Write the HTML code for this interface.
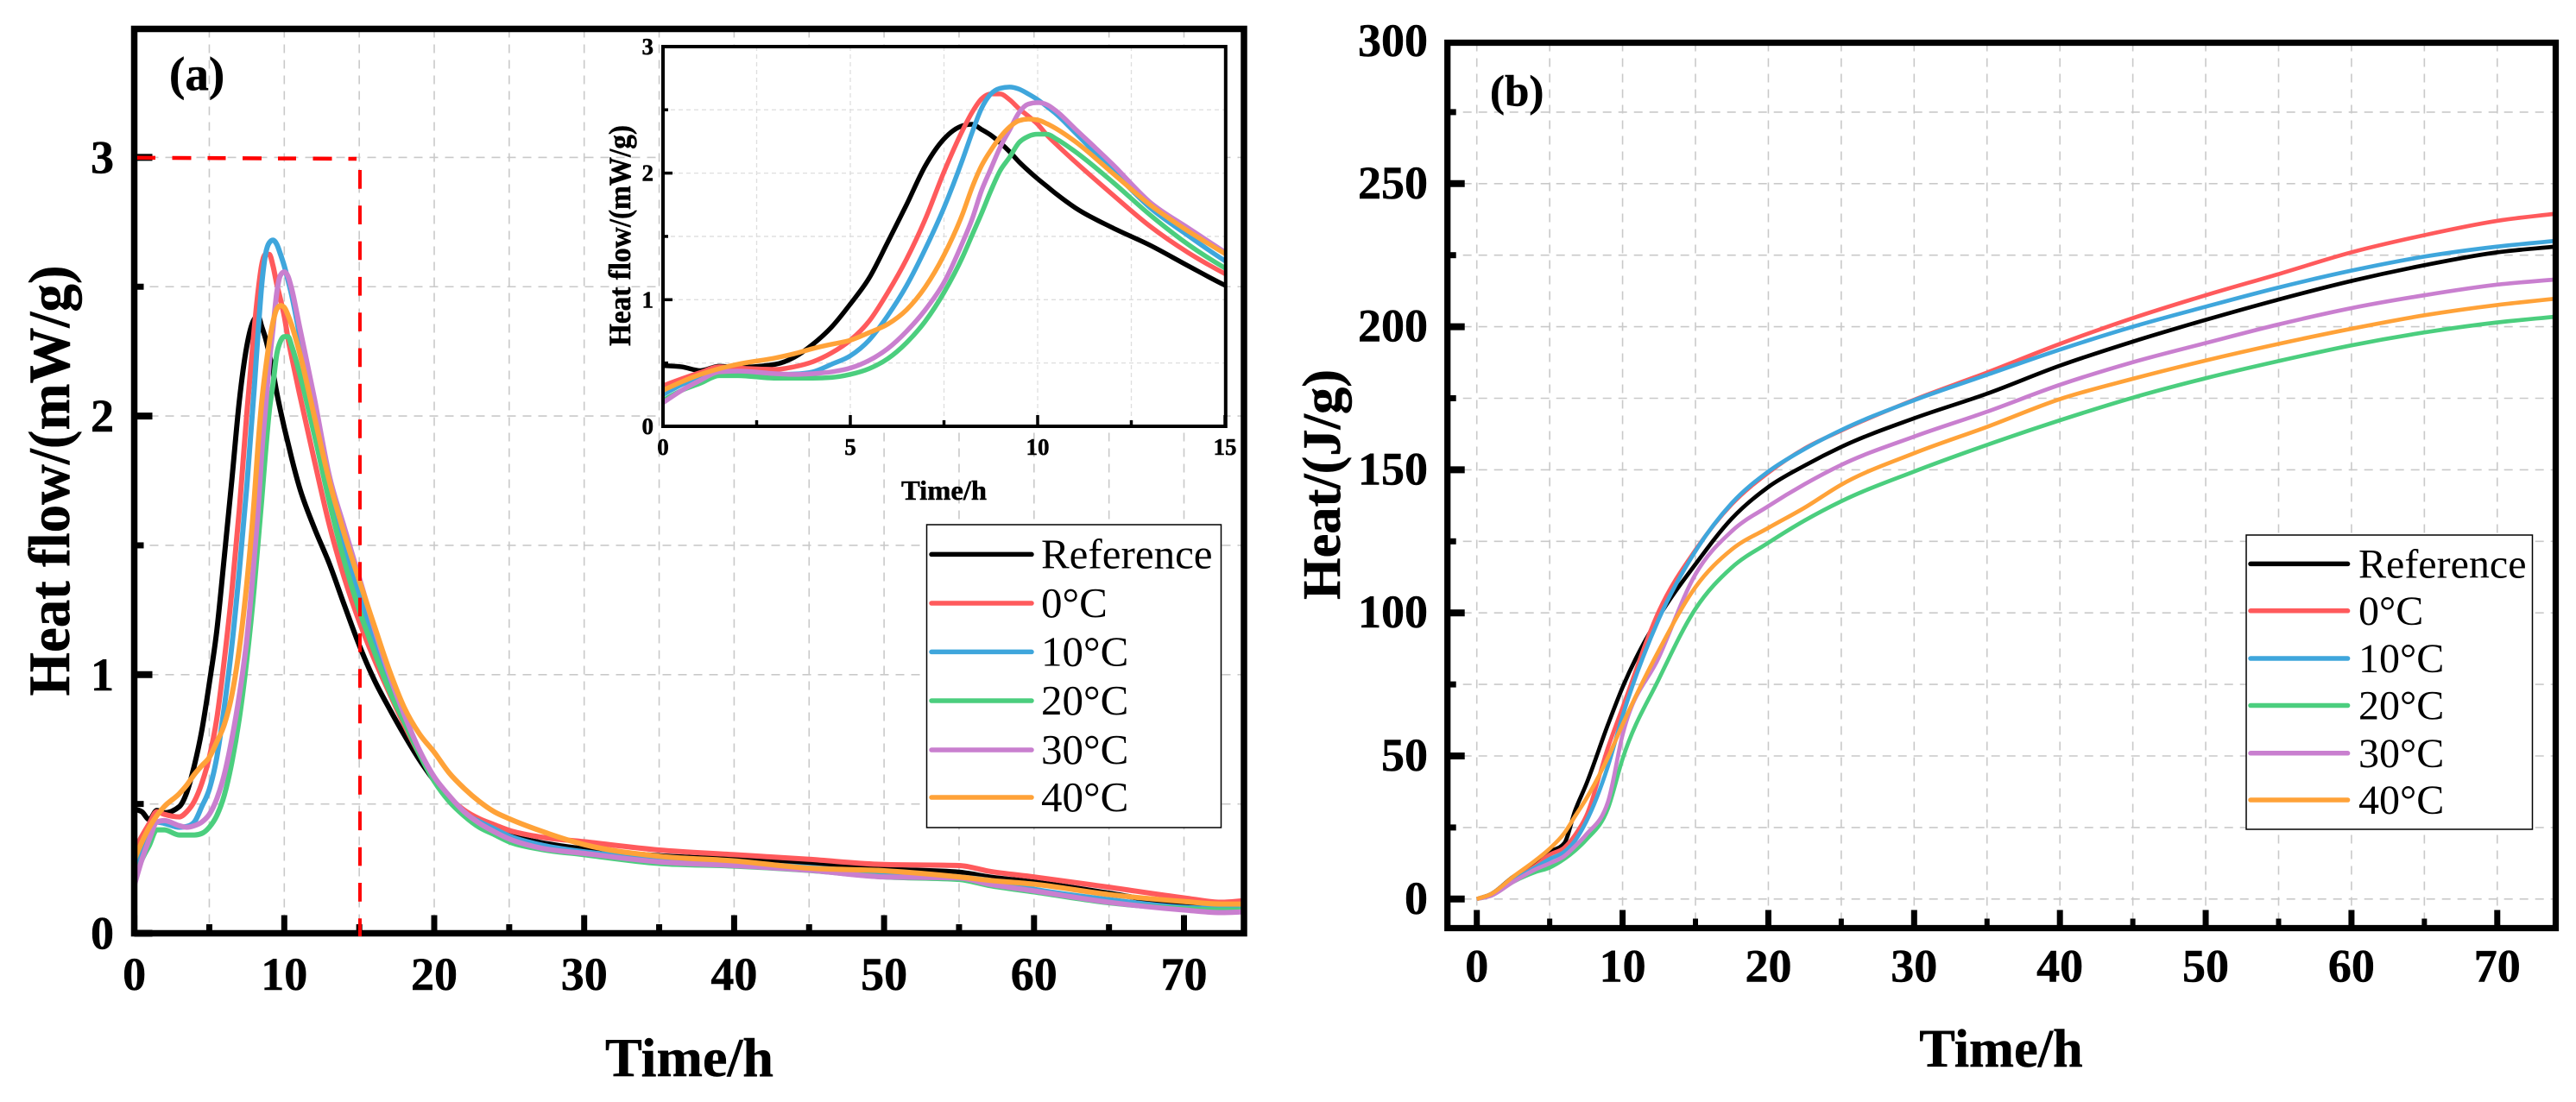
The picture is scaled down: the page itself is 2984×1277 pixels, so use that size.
<!DOCTYPE html>
<html lang="en">
<head>
<meta charset="utf-8">
<title>Heat flow and cumulative heat curves</title>
<style>
html,body{margin:0;padding:0;background:#fff;}
svg{display:block;font-family:"Liberation Serif",serif;}
.b{font-weight:bold;fill:#000;stroke:#000;stroke-width:0.5px;}
.r{fill:#000;}
</style>
</head>
<body>
<svg id="chart" xmlns="http://www.w3.org/2000/svg" width="2984" height="1277" viewBox="0 0 2984 1277">
  <rect x="0" y="0" width="2984" height="1277" fill="#fff"/>
  <g id="panelA"></g>
  <g id="panelB"></g>
</svg>
<script>
// ---------- Panel (a): heat flow, mW/g ----------
const timeA = [0,0.5,1,1.5,2,3,3.5,4,4.5,5,5.5,6,6.5,7,7.5,8,8.25,8.5,8.75,9,9.25,9.5,9.75,10,10.25,10.5,11,12,13,14,15,16,17,18,19,20,21,22,23,24,25,27,30,35,40,45,50,55,57,60,65,70,72.5,74];
const flowReference = [0.48,0.47,0.44,0.475,0.466,0.49,0.545,0.648,0.784,0.966,1.17,1.455,1.75,2.057,2.27,2.375,2.386,2.345,2.30,2.24,2.17,2.09,2.02,1.955,1.895,1.835,1.727,1.568,1.43,1.27,1.114,0.98,0.87,0.767,0.672,0.59,0.52,0.465,0.425,0.398,0.378,0.352,0.326,0.30,0.286,0.27,0.248,0.236,0.218,0.198,0.155,0.11,0.103,0.105];
const flow0C = [0.32,0.375,0.425,0.47,0.46,0.45,0.47,0.51,0.58,0.68,0.83,1.057,1.32,1.636,2.01,2.34,2.48,2.586,2.625,2.625,2.58,2.51,2.45,2.386,2.30,2.227,2.09,1.83,1.58,1.375,1.205,1.06,0.93,0.806,0.694,0.60,0.527,0.476,0.443,0.42,0.398,0.373,0.354,0.322,0.304,0.286,0.266,0.262,0.24,0.218,0.178,0.137,0.12,0.126];
const flow10C = [0.25,0.33,0.386,0.43,0.425,0.41,0.413,0.43,0.49,0.557,0.68,0.875,1.11,1.40,1.727,2.11,2.32,2.51,2.625,2.67,2.68,2.664,2.625,2.58,2.525,2.466,2.32,2.02,1.727,1.51,1.307,1.14,0.985,0.84,0.705,0.60,0.527,0.465,0.432,0.404,0.376,0.343,0.315,0.29,0.273,0.255,0.233,0.218,0.205,0.17,0.13,0.10,0.096,0.096];
const flow20C = [0.205,0.284,0.34,0.40,0.40,0.38,0.38,0.38,0.386,0.41,0.455,0.534,0.66,0.83,1.057,1.34,1.51,1.68,1.86,2.02,2.125,2.24,2.29,2.307,2.307,2.27,2.17,1.93,1.67,1.44,1.25,1.09,0.94,0.817,0.694,0.588,0.51,0.454,0.41,0.382,0.354,0.326,0.304,0.27,0.26,0.243,0.218,0.208,0.185,0.16,0.118,0.095,0.09,0.09];
const flow30C = [0.186,0.284,0.364,0.43,0.436,0.416,0.41,0.416,0.43,0.46,0.52,0.614,0.75,0.92,1.136,1.455,1.636,1.86,2.034,2.205,2.34,2.477,2.545,2.557,2.54,2.49,2.35,2.07,1.77,1.57,1.375,1.18,1.0,0.846,0.71,0.605,0.532,0.47,0.426,0.393,0.365,0.331,0.309,0.276,0.262,0.244,0.218,0.214,0.19,0.164,0.12,0.09,0.08,0.083];
const flow40C = [0.284,0.352,0.41,0.455,0.49,0.54,0.573,0.614,0.648,0.68,0.74,0.807,0.92,1.10,1.352,1.68,1.886,2.057,2.18,2.284,2.364,2.414,2.427,2.42,2.39,2.35,2.25,2.0,1.75,1.545,1.364,1.19,1.018,0.873,0.772,0.70,0.62,0.56,0.51,0.47,0.443,0.398,0.343,0.298,0.28,0.252,0.242,0.218,0.205,0.19,0.15,0.123,0.113,0.113];

// ---------- Panel (b): cumulative heat, J/g ----------
const timeB = [0,1,2.5,4,5,6,6.75,7.5,9,10,12.5,15,17.5,20,22.5,25,30,35,40,45,50,55,60,65,70,74];
const heatReference = [0,1.8,7.8,12.4,16.4,19.5,31,40,61,74,98.7,117,133,144,151.5,158,168,176.6,186.4,194.8,202.4,209.5,216,221.5,226,228];
const heat0C = [0,1.6,6.6,11.5,15.5,18,22.5,29,53,67,100.8,122,138,149,157.5,163.7,174.5,184,194,203,211,218.4,226,232,237,239.5];
const heat10C = [0,1.5,6.5,11,14,16.5,20.5,27,46.5,64,98,121.6,138.4,149.4,157.3,163.9,174.3,183.2,192,200,207,213.7,219.6,224.5,228,230];
const heat20C = [0,1.2,6,9.4,11,14,17,20.7,31.7,49,77,101.4,115.9,124.5,132.3,139,149.4,158.7,167.3,175.2,182,188,193.5,198,201.5,203.5];
const heat30C = [0,1.2,6,10.3,12.5,15,18.5,22.5,34,57.4,84.6,113.5,128.6,137.3,145,151.7,161.6,170.3,179.7,187.6,194.3,200.8,206.5,211,214.7,216.5];
const heat40C = [0,1.8,7.8,13.4,17.6,23,29,35,49.5,61,87,109,122.2,129.7,136.8,144.8,155.8,165,174.7,181.8,188.2,194,199.3,204,207.6,209.8];

// ---------- Ticks and legend ----------
const seriesLabels = ["Reference","0°C","10°C","20°C","30°C","40°C"];
const seriesSlugs = ["reference","0c","10c","20c","30c","40c"];
const seriesColors = ["#000000","#ff5a5c","#3fa6dc","#4bce7e","#c97fcf","#ffa238"];
const xMajor = [0,10,20,30,40,50,60,70];
const xMinor = [5,15,25,35,45,55,65];
const yMajorA = [0,1,2,3];
const yMinorA = [0.5,1.5,2.5];
const yMajorB = [0,50,100,150,200,250,300];
const yMinorB = [25,75,125,175,225,275];
const insetXMajor = [0,5,10,15];
const insetXMinor = [2.5,7.5,12.5];
const insetYMajor = [0,1,2,3];
const insetYMinor = [0.5,1.5,2.5];
const guideTime = [15];
const guideFlow = [3];

const NS = "http://www.w3.org/2000/svg";
const panelA = document.getElementById("panelA");
const panelB = document.getElementById("panelB");

// axis functions
const xA = t => 155.6 + 17.37 * t;
const yA = v => 1081.5 - 299.7 * v;
const xI = t => 768 + 43.4 * t;
const yI = v => 494 - 146.7 * v;
const xB = t => 1710.7 + 16.887 * t;
const yB = v => 1041.8 - 3.316 * v;

function make(parent, tag, attrs, text) {
  const node = document.createElementNS(NS, tag);
  for (const key in attrs) node.setAttribute(key, attrs[key]);
  if (text !== undefined) node.textContent = text;
  parent.appendChild(node);
  return node;
}

// monotone cubic path through the data points
function curvePath(xs, ys, fx, fy) {
  const n = xs.length, px = xs.map(fx), py = ys.map(fy);
  const d = [], m = [];
  for (let i = 0; i < n - 1; i++) d.push((py[i + 1] - py[i]) / (px[i + 1] - px[i]));
  m.push(d[0]);
  for (let i = 1; i < n - 1; i++) {
    if (d[i - 1] * d[i] <= 0) { m.push(0); continue; }
    const h0 = px[i] - px[i - 1], h1 = px[i + 1] - px[i];
    const p = (d[i - 1] * h1 + d[i] * h0) / (h0 + h1);
    const mag = Math.min(2 * Math.abs(d[i - 1]), 2 * Math.abs(d[i]), Math.abs(p));
    m.push(Math.sign(d[i]) * mag);
  }
  m.push(d[n - 2]);
  let s = "M" + px[0].toFixed(2) + " " + py[0].toFixed(2);
  for (let i = 0; i < n - 1; i++) {
    const h = (px[i + 1] - px[i]) / 3;
    s += "C" + (px[i] + h).toFixed(2) + " " + (py[i] + m[i] * h).toFixed(2) + " " +
         (px[i + 1] - h).toFixed(2) + " " + (py[i + 1] - m[i + 1] * h).toFixed(2) + " " +
         px[i + 1].toFixed(2) + " " + py[i + 1].toFixed(2);
  }
  return s;
}

function drawGrid(parent, xVals, yVals, fx, fy, box, color, width, dash, label) {
  const g = make(parent, "g", {fill: "none", stroke: color, "stroke-width": width, "stroke-dasharray": dash});
  
  
  xVals.forEach(v => {
    const ln = make(g, "line", {x1: fx(v), x2: fx(v), y1: box.top, y2: box.bottom});
    
    
  });
  yVals.forEach(v => {
    const ln = make(g, "line", {x1: box.left, x2: box.right, y1: fy(v), y2: fy(v)});
    
    
  });
}

function drawSeries(parent, xs, seriesList, fx, fy, width, prefix) {
  seriesList.forEach((vals, i) => {
    const p = make(parent, "path", {
      d: curvePath(xs, vals, fx, fy), fill: "none", stroke: seriesColors[i],
      "stroke-width": width, "stroke-linejoin": "round", "stroke-linecap": "butt"
    });
    
    
  });
}

function drawFrame(parent, box, w, h, label) {
  const r = make(parent, "rect", {
    x: box.left, y: box.top, width: box.right - box.left, height: box.bottom - box.top,
    fill: "none", stroke: "#000"
  });
  r.setAttribute("stroke-width", (w + h) / 2);
  
  
}

function drawXTicks(parent, vals, fx, baseY, len, w, label) {
  vals.forEach(v => {
    const ln = make(parent, "line", {x1: fx(v), x2: fx(v), y1: baseY, y2: baseY - len, stroke: "#000", "stroke-width": w});
    
    
  });
}

function drawYTicks(parent, vals, fy, baseX, len, w, label) {
  vals.forEach(v => {
    const ln = make(parent, "line", {x1: baseX, x2: baseX + len, y1: fy(v), y2: fy(v), stroke: "#000", "stroke-width": w});
    
    
  });
}

function drawXLabels(parent, vals, fx, baseY, size, label) {
  vals.forEach(v => {
    const t = make(parent, "text", {x: fx(v), y: baseY, "text-anchor": "middle", "font-size": size, class: "b"}, String(v));
    
    
  });
}

function drawYLabels(parent, vals, fy, rightX, dy, size, label) {
  vals.forEach(v => {
    const t = make(parent, "text", {x: rightX, y: fy(v) + dy, "text-anchor": "end", "font-size": size, class: "b"}, String(v));
    
    
  });
}

function drawTitle(parent, str, x, y, size, length, rotate, label) {
  const attrs = {x: x, y: y, "text-anchor": "middle", "font-size": size, class: "b", textLength: length, lengthAdjust: "spacingAndGlyphs"};
  if (rotate) attrs.transform = "rotate(-90 " + x + " " + y + ")";
  const t = make(parent, "text", attrs, str);
  
  
}

function drawLegend(parent, box, rowY, lineX1, lineX2, textX, size, label) {
  const g = make(parent, "g", {});
  
  
  const r = make(g, "rect", {x: box.left, y: box.top, width: box.right - box.left, height: box.bottom - box.top, fill: "#fff", stroke: "#000", "stroke-width": 1.5});
  
  
  seriesLabels.forEach((name, i) => {
    const y = box.top + rowY[i];
    const ln = make(g, "line", {x1: lineX1, x2: lineX2, y1: y, y2: y, stroke: seriesColors[i], "stroke-width": 5.5, "stroke-linecap": "round"});
    
    
    const t = make(g, "text", {x: textX, y: y + 16, "font-size": size, class: "r"}, name);
    
    
  });
}

// ---------- draw panel (a) ----------
const flowSeries = [flowReference, flow0C, flow10C, flow20C, flow30C, flow40C];
const boxA = {left: 155.5, right: 1441, top: 33.5, bottom: 1081.5};
drawGrid(panelA, xMajor.concat(xMinor), [0.5, 1, 1.5, 2, 2.5, 3], xA, yA, boxA, "#c9c9c9", 1.6, "10 8", "main-grid-a");
drawSeries(panelA, timeA, flowSeries, xA, yA, 6, "main");
drawXTicks(panelA, xMajor, xA, 1081, 20.5, 7, "x-major-tick-a");
drawXTicks(panelA, xMinor, xA, 1081, 10, 7, "x-minor-tick-a");
drawYTicks(panelA, yMajorA, yA, 155.5, 21, 8, "y-major-tick-a");
drawYTicks(panelA, yMinorA, yA, 155.5, 11, 7, "y-minor-tick-a");
drawFrame(panelA, boxA, 7, 8, "plot-frame-a");
drawXLabels(panelA, xMajor, xA, 1147, 54, "x-tick-label-a");
drawYLabels(panelA, yMajorA, yA, 132, 18, 54, "y-tick-label-a");
drawTitle(panelA, "Time/h", 798.5, 1247, 63, 195, false, "x-axis-title-a");
drawTitle(panelA, "Heat flow/(mW/g)", 80, 557, 68, 499, true, "y-axis-title-a");
const tagA = make(panelA, "text", {x: 196, y: 104, "font-size": 55, class: "b"}, "(a)");



// inset
const boxI = {left: 768, right: 1419.8, top: 54, bottom: 494};
const insetBg = make(panelA, "rect", {x: 768, y: 54, width: 651.8, height: 440, fill: "#fff"});


drawGrid(panelA, [2.5, 5, 7.5, 10, 12.5], [0.5, 1, 1.5, 2, 2.5], xI, yI, boxI, "#dedede", 1.3, "5 4", "inset-grid");
const insetClip = make(panelA, "clipPath", {id: "insetClip"});


const insetClipRect = make(insetClip, "rect", {x: 768, y: 54, width: 651.8, height: 440});


const insetCurves = make(panelA, "g", {"clip-path": "url(#insetClip)"});


drawSeries(insetCurves, timeA, flowSeries, xI, yI, 5.5, "inset");
drawXTicks(panelA, insetXMajor, xI, 494, 13, 3.5, "inset-x-major-tick");
drawXTicks(panelA, insetXMinor, xI, 494, 7, 3.5, "inset-x-minor-tick");
drawYTicks(panelA, insetYMajor, yI, 768, 11, 3.5, "inset-y-major-tick");
drawYTicks(panelA, insetYMinor, yI, 768, 6, 3.5, "inset-y-minor-tick");
drawFrame(panelA, boxI, 4, 4, "inset-frame");
drawXLabels(panelA, insetXMajor, xI, 527, 27, "inset-x-tick-label");
drawYLabels(panelA, insetYMajor, yI, 757, 9, 27, "inset-y-tick-label");
drawTitle(panelA, "Time/h", 1093.5, 579, 32, 99, false, "inset-x-axis-title");
drawTitle(panelA, "Heat flow/(mW/g)", 730, 273, 36, 256, true, "inset-y-axis-title");

// legend (a)
drawLegend(panelA, {left: 1073.5, right: 1414.5, top: 608, bottom: 959}, [34.4, 91, 147.4, 204, 261, 316], 1079, 1195, 1206, 49, "legend-a");

// red guide lines
const guideH = make(panelA, "line", {x1: 159, x2: 413, y1: yA(guideFlow[0]) + 0.4, y2: yA(guideFlow[0]) + 1.6, stroke: "#ff0000", "stroke-width": 4.5, "stroke-dasharray": "21 19.5 22 19"});


const guideV = make(panelA, "line", {x1: xA(guideTime[0]) + 0.8, x2: xA(guideTime[0]) + 0.8, y1: 197, y2: 1085, stroke: "#ff0000", "stroke-width": 4, "stroke-dasharray": "21.7 19.6"});



// ---------- draw panel (b) ----------
const heatSeries = [heatReference, heat0C, heat10C, heat20C, heat30C, heat40C];
const boxB = {left: 1676.7, right: 2960.5, top: 49.5, bottom: 1075.5};
drawGrid(panelB, xMajor.concat(xMinor), yMinorB.concat(yMajorB.filter(v => v < 300)), xB, yB, boxB, "#c9c9c9", 1.6, "10 8", "main-grid-b");
drawSeries(panelB, timeB, heatSeries, xB, yB, 4.7, "heat");
drawXTicks(panelB, xMajor, xB, 1075.5, 21, 7, "x-major-tick-b");
drawXTicks(panelB, xMinor, xB, 1075.5, 11, 6, "x-minor-tick-b");
drawYTicks(panelB, yMajorB.filter(v => v < 300), yB, 1676.7, 20, 8, "y-major-tick-b");
drawYTicks(panelB, yMinorB, yB, 1676.7, 10, 7, "y-minor-tick-b");
drawFrame(panelB, boxB, 7, 7.5, "plot-frame-b");
drawXLabels(panelB, xMajor, xB, 1137.5, 54, "x-tick-label-b");
drawYLabels(panelB, yMajorB, v => (v === 300 ? 48 : yB(v)), 1654, 17, 54, "y-tick-label-b");
drawTitle(panelB, "Time/h", 2318, 1236, 62, 189.5, false, "x-axis-title-b");
drawTitle(panelB, "Heat/(J/g)", 1552, 561.5, 62, 267, true, "y-axis-title-b");
const tagB = make(panelB, "text", {x: 1726, y: 122.5, "font-size": 51, class: "b"}, "(b)");


drawLegend(panelB, {left: 2602, right: 2933.5, top: 620, bottom: 961}, [33.4, 87.8, 143, 197.5, 252.8, 307], 2607, 2719.6, 2732, 48, "legend-b");
</script>
</body>
</html>
